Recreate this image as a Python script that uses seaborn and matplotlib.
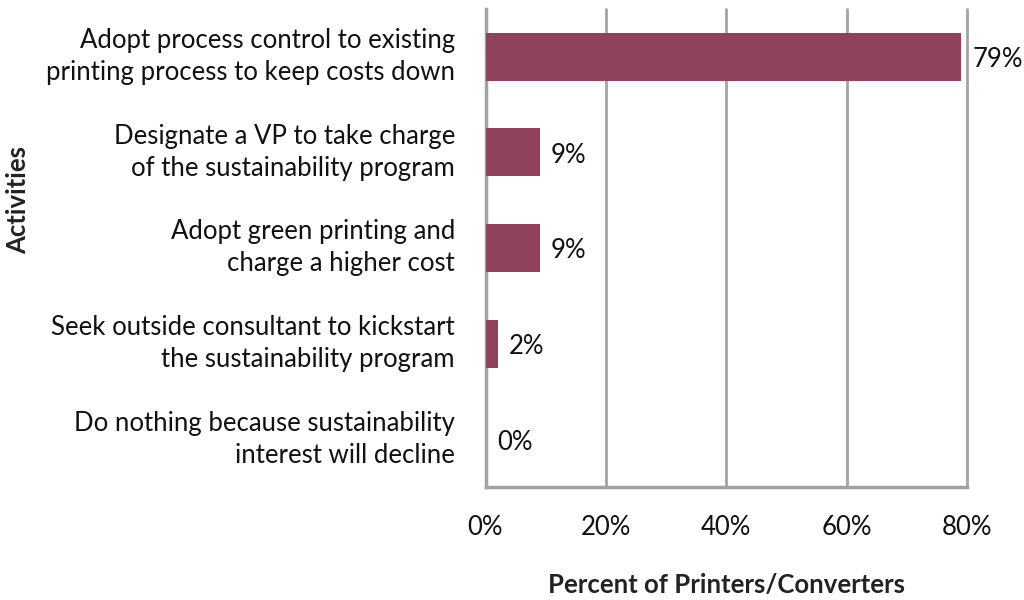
import matplotlib
matplotlib.use("Agg")
import matplotlib.pyplot as plt
import seaborn as sns
import pandas as pd
import numpy as np

activities = [
    "Adopt process control to existing\nprinting process to keep costs down",
    "Designate a VP to take charge\nof the sustainability program",
    "Adopt green printing and\ncharge a higher cost",
    "Seek outside consultant to kickstart\nthe sustainability program",
    "Do nothing because sustainability\ninterest will decline",
]
percent = [79, 9, 9, 2, 0]
x_ticks = [0, 20, 40, 60, 80]

df = pd.DataFrame({"Activity": activities, "Percent": percent})

sns.set_theme(style="white")
plt.rcParams["font.family"] = ["Lato", "DejaVu Sans"]

fig = plt.figure(figsize=(10.24, 6.0), dpi=100)
ax = fig.add_axes([485.5 / 1024, 1 - 487 / 600, (967 - 485.5) / 1024, (487 - 9) / 600])

grey = "#a3a3a3"
bar_color = "#8f4259"
fs = 18.5

sns.barplot(data=df, x="Percent", y="Activity", orient="h", color=bar_color,
            width=0.5, saturation=1, linewidth=0, ax=ax, zorder=3)

ax.set_xlim(0, 80)
ax.set_ylim(len(activities) - 0.5, -0.5)
ax.set_xticks(x_ticks)
ax.set_xticklabels([f"{v}%" for v in x_ticks], fontsize=fs, color="#111111")
ax.tick_params(axis="x", which="major", direction="out", length=6, width=2,
               color=grey, pad=14)

# category labels, with tick marks at the category boundaries
ax.set_yticks(range(len(activities)))
ax.set_yticklabels(activities, fontsize=fs, color="#111111", ha="right",
                   va="center", linespacing=1.35)
ax.tick_params(axis="y", which="major", length=0, pad=22)
ax.set_yticks(np.arange(-0.5, len(activities), 1), minor=True)
ax.tick_params(axis="y", which="minor", direction="out", length=7, width=2,
               color=grey)

ax.grid(axis="x", color=grey, linewidth=2, zorder=0)
for gl in ax.get_xgridlines():
    gl.set_clip_on(False)
for side in ["top", "right"]:
    ax.spines[side].set_visible(False)
for side in ["left", "bottom"]:
    ax.spines[side].set_color(grey)
    ax.spines[side].set_linewidth(2.5)

for i, v in enumerate(percent):
    ax.text(v + 1.9, i + 0.03, f"{v}%", va="center", ha="left", fontsize=fs,
            color="#111111")

ax.set_xlabel("Percent of Printers/Converters", fontsize=fs, fontweight="bold",
              color="#222222", labelpad=24)
ax.set_ylabel("")
fig.text(18 / 1024, 1 - 200 / 600, "Activities", rotation=90, fontsize=fs,
         fontweight="bold", color="#222222", ha="center", va="center")

fig.savefig("out.png", dpi=100)
